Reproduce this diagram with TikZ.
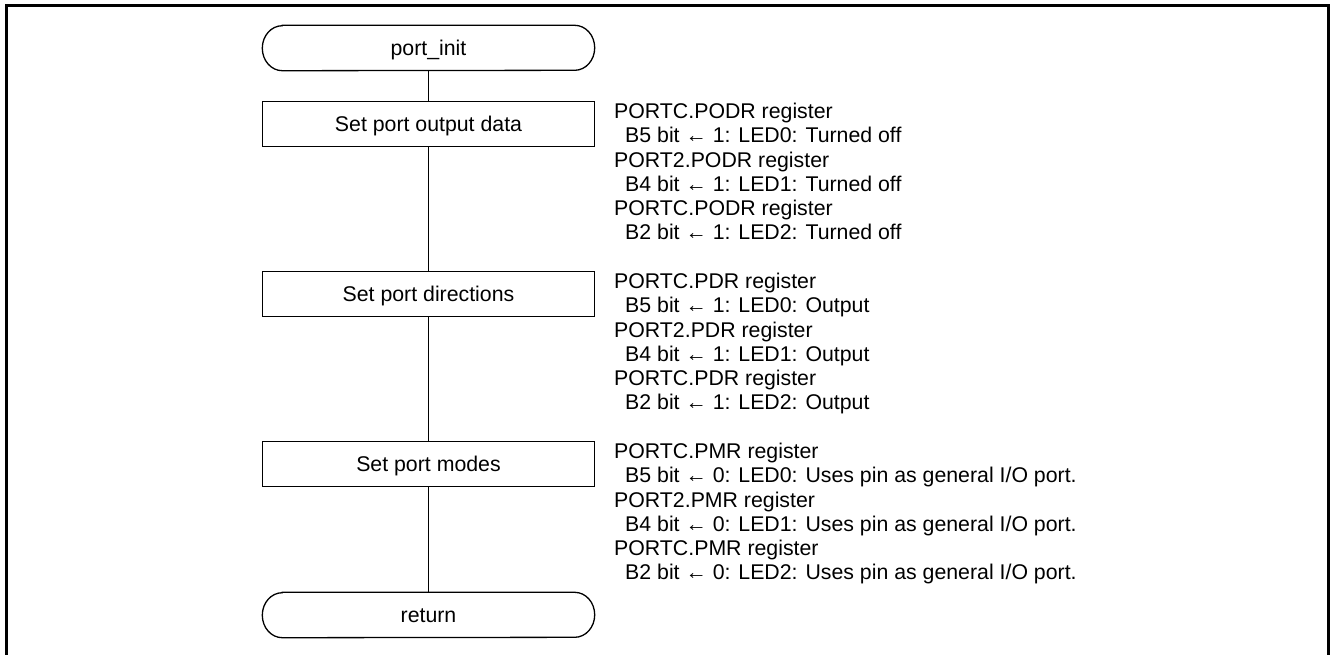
\documentclass[tikz,border=0pt]{standalone}
\usepackage{fontspec}
\setmainfont{Liberation Sans}
\begin{document}
\begin{tikzpicture}[x=1pt,y=-1pt,
  every node/.style={font=\fontsize{21.3}{24.3}\selectfont},
  procbox/.style={draw, line width=1.3pt, minimum width=332pt, minimum height=45pt, inner sep=0pt, text height=15.3pt, text depth=0pt},
  termbox/.style={minimum width=332pt, minimum height=45pt, inner sep=0pt, text height=15.3pt, text depth=0pt},
  note/.style={anchor=north west, align=left, inner sep=0pt},
  flow/.style={line width=1.3pt},
  frame/.style={line width=2.7pt}]
\useasboundingbox (0,0) rectangle (1330,654);
\draw[frame] (6.3,670) -- (6.3,5.5) -- (1328.8,5.5) -- (1328.8,670);

\node[termbox] (start) at (428.5,48) {port\_init};
\node[procbox] (b1) at (428.5,124) {Set port output data};
\node[procbox] (b2) at (428.5,294) {Set port directions};
\node[procbox] (b3) at (428.5,464) {Set port modes};
\node[termbox] (ret) at (428.5,615) {return};

\foreach \n in {start,ret}
  \draw[flow] ([xshift=20pt]\n.north west) -- ([xshift=-20pt]\n.north east)
    arc[start angle=90,end angle=-90,x radius=20pt,y radius=22.5pt]
    -- ([xshift=20pt]\n.south west)
    arc[start angle=270,end angle=90,x radius=20pt,y radius=22.5pt] -- cycle;

\draw[flow] (start) -- (b1);
\draw[flow] (b1) -- (b2);
\draw[flow] (b2) -- (b3);
\draw[flow] (b3) -- (ret);

\node[note] (n1) at (614,102.8) {PORTC.PODR register\\
\hspace*{11pt}B5 bit ← 1: LED0: Turned off\\
PORT2.PODR register\\
\hspace*{11pt}B4 bit ← 1: LED1: Turned off\\
PORTC.PODR register\\
\hspace*{11pt}B2 bit ← 1: LED2: Turned off};

\node[note] (n2) at (614,272.8) {PORTC.PDR register\\
\hspace*{11pt}B5 bit ← 1: LED0: Output\\
PORT2.PDR register\\
\hspace*{11pt}B4 bit ← 1: LED1: Output\\
PORTC.PDR register\\
\hspace*{11pt}B2 bit ← 1: LED2: Output};

\node[note] (n3) at (614,442.8) {PORTC.PMR register\\
\hspace*{11pt}B5 bit ← 0: LED0: Uses pin as general I/O port.\\
PORT2.PMR register\\
\hspace*{11pt}B4 bit ← 0: LED1: Uses pin as general I/O port.\\
PORTC.PMR register\\
\hspace*{11pt}B2 bit ← 0: LED2: Uses pin as general I/O port.};
\end{tikzpicture}
\end{document}
